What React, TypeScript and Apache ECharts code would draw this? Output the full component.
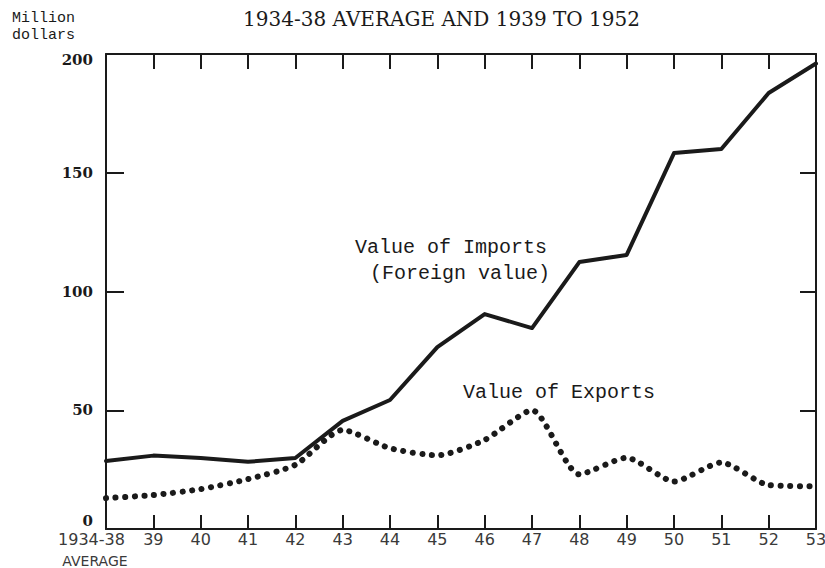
import React, { useEffect, useRef } from "react";
import * as echarts from "echarts";

const categories = ["1934-38", "39", "40", "41", "42", "43", "44", "45", "46", "47", "48", "49", "50", "51", "52", "53"];
const importsValues = [28.6, 30.9, 29.9, 28.3, 29.9, 45.5, 54.3, 76.6, 90.5, 84.6, 112.4, 115.4, 158.3, 160, 183.6, 196];
const exportsValues = [13, 14.3, 16.8, 21, 27, 41.7, 34, 31, 37.5, 50, 23, 30, 20, 28, 18.5, 18];
const firstCategoryNote = "AVERAGE";
const titleText = "1934-38 AVERAGE AND 1939 TO 1952";
const unitLine1 = "Million";
const unitLine2 = "dollars";
const importsLabel1 = "Value of Imports";
const importsLabel2 = "(Foreign value)";
const exportsLabel = "Value of Exports";
const yMin = 0;
const yMax = 200;
const yInterval = 50;

const INK = "#1a1a1a";
const MONO = "'Liberation Mono', 'DejaVu Sans Mono', monospace";
const SANS = "'DejaVu Sans', sans-serif";
const SERIF = "'DejaVu Serif', serif";

export default function App() {
  const ref = useRef<HTMLDivElement>(null);
  useEffect(() => {
    if (!ref.current) return;
    const chart = echarts.init(ref.current, null, { renderer: "svg" });
    const axisLine = { show: true, onZero: false, lineStyle: { color: INK, width: 2 } };
    const xBase = {
      type: "category" as const,
      data: categories,
      boundaryGap: false,
      axisLine,
      splitLine: { show: false },
    };
    const yBase = {
      type: "value" as const,
      min: yMin,
      max: yMax,
      interval: yInterval,
      axisLine,
      splitLine: { show: false },
    };
    const yLabelStyle = { fontFamily: SERIF, fontWeight: "bold" as const, fontSize: 15, color: INK };
    chart.setOption({
      animation: false,
      backgroundColor: "#ffffff",
      grid: { left: 106, right: 9, top: 54, bottom: 39, containLabel: false, outerBoundsMode: "none" },
      xAxis: [
        {
          ...xBase,
          position: "bottom",
          axisTick: { show: true, interval: 0, inside: true, length: 14, lineStyle: { color: INK, width: 2 } },
          axisLabel: {
            interval: 0,
            margin: 0,
            color: "#3a3a3a",
            fontFamily: SANS,
            fontSize: 16,
            lineHeight: 20,
            formatter: (v: string) => (v === categories[0] ? `{a|${v}}\n{b|${firstCategoryNote}}` : v),
            rich: {
              a: { fontFamily: SANS, fontSize: 16, color: "#3a3a3a", lineHeight: 20, padding: [0, 29, 0, 0] },
              b: { fontFamily: SANS, fontSize: 14, color: "#3a3a3a", lineHeight: 24, padding: [0, 22, 0, 0] },
            },
          },
        },
        {
          ...xBase,
          position: "top",
          axisTick: { show: true, interval: 0, inside: true, length: 15, lineStyle: { color: INK, width: 2 } },
          axisLabel: { show: false },
        },
      ],
      yAxis: [
        {
          ...yBase,
          position: "left",
          axisTick: { show: true, inside: true, length: 18, lineStyle: { color: INK, width: 2 } },
          axisLabel: {
            margin: 13,
            ...yLabelStyle,
            formatter: (v: number) =>
              v === yMin ? `{lo|${v}}` : v === yMax ? `{hi|${v}}` : `{n|${v}}`,
            rich: {
              n: { ...yLabelStyle },
              lo: { ...yLabelStyle, padding: [0, 0, 17, 0] },
              hi: { ...yLabelStyle, padding: [12, 0, 0, 0] },
            },
          },
        },
        {
          ...yBase,
          position: "right",
          axisTick: { show: true, inside: true, length: 16, lineStyle: { color: INK, width: 2 } },
          axisLabel: { show: false },
        },
      ],
      series: [
        {
          name: importsLabel1,
          type: "line",
          data: importsValues,
          xAxisIndex: 0,
          yAxisIndex: 0,
          showSymbol: false,
          symbol: "none",
          lineStyle: { color: INK, width: 4, join: "round", cap: "round" },
          z: 3,
        },
        {
          name: exportsLabel,
          type: "line",
          data: exportsValues,
          xAxisIndex: 0,
          yAxisIndex: 0,
          showSymbol: false,
          symbol: "none",
          smooth: 0.22,
          lineStyle: { color: INK, width: 6, type: [0.1, 9.5], cap: "round" },
          z: 4,
        },
      ],
      graphic: [
        {
          type: "text",
          left: 12,
          top: 10,
          style: { text: `${unitLine1}\n${unitLine2}`, font: `15px ${MONO}`, lineHeight: 17, fill: INK },
        },
        { type: "text", left: 243, top: 9, style: { text: titleText, font: `20px ${SERIF}`, fill: INK } },
        { type: "text", left: 355, top: 237, style: { text: importsLabel1, font: `20px ${MONO}`, fill: INK } },
        { type: "text", left: 370, top: 263, style: { text: importsLabel2, font: `20px ${MONO}`, fill: INK } },
        { type: "text", left: 463, top: 382, style: { text: exportsLabel, font: `20px ${MONO}`, fill: INK } },
      ],
    });
    return () => chart.dispose();
  }, []);
  return (
    <div
      ref={ref}
      style={{ position: "fixed", left: 0, top: 0, width: 825, height: 568, background: "#fff" }}
    />
  );
}
